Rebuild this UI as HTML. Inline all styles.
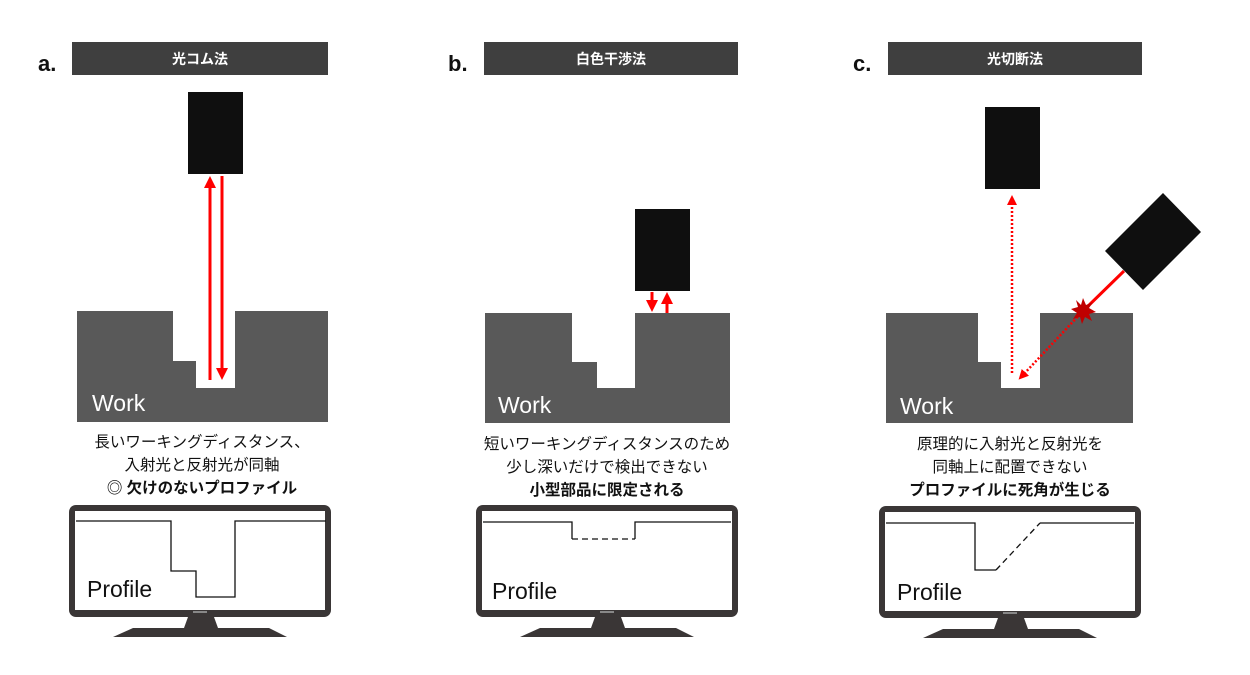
<!DOCTYPE html>
<html><head><meta charset="utf-8"><style>
html,body{margin:0;padding:0;background:#fff;}
svg{display:block}
text{font-family:"Liberation Sans","Noto Sans CJK JP",sans-serif;}
.hd{fill:#fff;font-size:14px;font-weight:bold;text-anchor:middle}
.lb{fill:#111;font-size:22px;font-weight:bold}
.tx{fill:#111;font-size:15.5px;text-anchor:middle}
.wk{fill:#fff;font-size:23px}
.pf{fill:#111;font-size:23px}
</style></head><body>
<svg width="1250" height="675" viewBox="0 0 1250 675" xmlns="http://www.w3.org/2000/svg">
<defs>
<marker id="ah" markerWidth="4" markerHeight="4" refX="2" refY="2" orient="auto" markerUnits="strokeWidth"><path d="M0,0 L4,2 L0,4 z" fill="#f00"/></marker>
<marker id="ah2" markerWidth="10" markerHeight="10" refX="5" refY="5" orient="auto" markerUnits="userSpaceOnUse"><path d="M0,0 L10,5 L0,10 z" fill="#f00"/></marker>
<g id="mon">
<rect x="476" y="505" width="262" height="112" rx="7" fill="#3a3636"/>
<rect x="482" y="511" width="250" height="99" fill="#fff"/>
<rect x="600" y="611" width="14" height="2" fill="#888"/>
<path d="M595,617 L621,617 L625,628 L591,628 Z" fill="#3a3636"/>
<path d="M540,628 L676,628 L694,637 L520,637 Z" fill="#3a3636"/>
</g>
</defs>
<rect x="72" y="42" width="256" height="33" fill="#3f3f3f"/><text class="hd" x="200" y="64">光コム法</text>
<rect x="484" y="42" width="254" height="33" fill="#3f3f3f"/><text class="hd" x="611" y="64">白色干渉法</text>
<rect x="888" y="42" width="254" height="33" fill="#3f3f3f"/><text class="hd" x="1015" y="64">光切断法</text>
<text class="lb" x="38" y="71">a.</text>
<text class="lb" x="448" y="71">b.</text>
<text class="lb" x="853" y="71">c.</text>

<rect x="188" y="92" width="55" height="82" fill="#0f0f0f"/>
<path d="M77,311 H173 V361 H196 V388 H235 V311 H328 V422 H77 Z" fill="#595959"/>
<text class="wk" x="92" y="411">Work</text>
<line x1="210" y1="380" x2="210" y2="182" stroke="#f00" stroke-width="3" marker-end="url(#ah)"/>
<line x1="222" y1="176" x2="222" y2="374" stroke="#f00" stroke-width="3" marker-end="url(#ah)"/>
<text class="tx" x="202" y="447">長いワーキングディスタンス、</text>
<text class="tx" x="202" y="470">入射光と反射光が同軸</text>
<text class="tx" x="202" y="493" font-weight="bold">◎ 欠けのないプロファイル</text>
<use href="#mon" transform="translate(-407,0)"/>
<path d="M76,521 H171 V571 H196 V597 H235 V521 H326" fill="none" stroke="#111" stroke-width="1.3"/>
<text class="pf" x="87" y="597">Profile</text>

<rect x="635" y="209" width="55" height="82" fill="#0f0f0f"/>
<path d="M485,313 H572 V362 H597 V388 H635 V313 H730 V423 H485 Z" fill="#595959"/>
<text class="wk" x="498" y="413">Work</text>
<line x1="652" y1="292" x2="652" y2="306" stroke="#f00" stroke-width="3" marker-end="url(#ah)"/>
<line x1="667" y1="313" x2="667" y2="298" stroke="#f00" stroke-width="3" marker-end="url(#ah)"/>
<text class="tx" x="607" y="449">短いワーキングディスタンスのため</text>
<text class="tx" x="607" y="472">少し深いだけで検出できない</text>
<text class="tx" x="607" y="495" font-weight="bold">小型部品に限定される</text>
<use href="#mon"/>
<path d="M483,522 H572 V539" fill="none" stroke="#111" stroke-width="1.3"/>
<path d="M572,539 H635" fill="none" stroke="#111" stroke-width="1.3" stroke-dasharray="6,4"/>
<path d="M635,539 V522 H731" fill="none" stroke="#111" stroke-width="1.3"/>
<text class="pf" x="492" y="599">Profile</text>

<rect x="985" y="107" width="55" height="82" fill="#0f0f0f"/>
<path d="M886,313 H978 V362 H1001 V388 H1040 V313 H1133 V423 H886 Z" fill="#595959"/>
<text class="wk" x="900" y="414">Work</text>
<polygon points="1105,251 1163,193 1201,232 1143,290" fill="#0f0f0f"/>
<line x1="1124" y1="271" x2="1083" y2="311" stroke="#f00" stroke-width="3"/>
<line x1="1012" y1="373" x2="1012" y2="200" stroke="#f00" stroke-width="2.5" stroke-dasharray="2,2" marker-end="url(#ah2)"/>
<line x1="1083" y1="311" x2="1022" y2="376" stroke="#f00" stroke-width="2.5" stroke-dasharray="2,2" marker-end="url(#ah2)"/>
<polygon points="1083,298 1086,305 1093,302 1089,308 1096,312 1089,314 1092,321 1085,317 1082,324 1080,317 1073,319 1077,313 1071,309 1078,307 1076,300 1081,305" fill="#c00000"/>
<text class="tx" x="1010" y="449">原理的に入射光と反射光を</text>
<text class="tx" x="1010" y="472">同軸上に配置できない</text>
<text class="tx" x="1010" y="495" font-weight="bold">プロファイルに死角が生じる</text>
<use href="#mon" transform="translate(403,1)"/>
<path d="M886,523 H975 V570 H996" fill="none" stroke="#111" stroke-width="1.3"/>
<path d="M996,570 L1040,523" fill="none" stroke="#111" stroke-width="1.3" stroke-dasharray="6,4"/>
<path d="M1040,523 H1134" fill="none" stroke="#111" stroke-width="1.3"/>
<text class="pf" x="897" y="600">Profile</text>
</svg>
</body></html>
